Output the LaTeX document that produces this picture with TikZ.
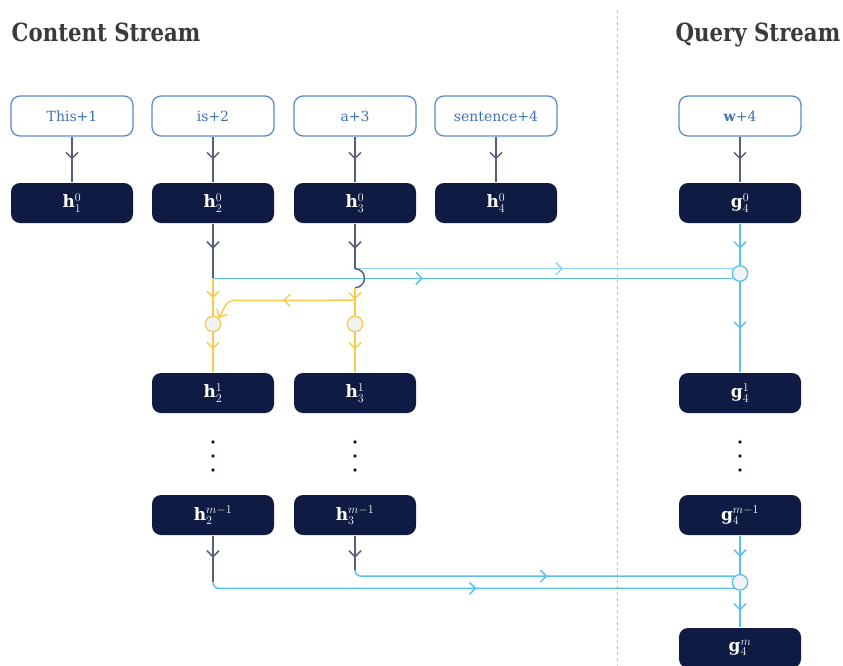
\documentclass[tikz,border=0pt]{standalone}
\usepackage{amsmath}
\usepackage{fontspec}
\setmainfont{DejaVu Serif}
\newfontfamily\titlefont[FakeStretch=0.85]{DejaVu Serif}
\usepackage{xcolor}
\usepackage{tikz}
\usetikzlibrary{arrows.meta}
\usetikzlibrary{decorations.markings}
\usetikzlibrary{calc}
\definecolor{navy}{HTML}{0F1B42}
\definecolor{inblue}{HTML}{5A8CCB}
\definecolor{intext}{HTML}{3F72B5}
\definecolor{slate}{HTML}{56607A}
\definecolor{sky}{HTML}{5BC0EB}
\definecolor{skylight}{HTML}{8FD3F2}
\definecolor{gold}{HTML}{F7CB4D}
\definecolor{mixfill}{HTML}{F2F2F2}
\definecolor{titlegray}{HTML}{3A3A3A}
\tikzset{
	barb/.tip={Straight Barb[length=6pt,width=12pt]},
	inbox/.style={draw=inblue, fill=white, rounded corners=9pt, minimum width=122pt, minimum height=40pt, text=intext, line width=1.3pt, font=\fontsize{14}{16}\selectfont},
	hbox/.style={fill=navy, rounded corners=9pt, minimum width=122pt, minimum height=40pt, text=white, font=\fontsize{17}{19}\selectfont},
	mix/.style={circle, draw=#1, fill=mixfill, line width=1.3pt, minimum size=15.5pt, inner sep=0pt},
	tipat/.style={postaction={decorate}, decoration={markings, mark=at position #1 with {\arrow{barb}}}},
	streamtitle/.style={text=titlegray, font=\titlefont\bfseries\fontsize{25}{28}\selectfont, inner sep=0pt},
}

\begin{document}
\begin{tikzpicture}[x=1pt, y=-1pt, line width=1.5pt]
	\useasboundingbox (0,0) rectangle (843,665);
	\draw[gray!50, dashed, line width=0.9pt] (617,10) -- (617,665);
	\node[streamtitle, anchor=base west] (cs) at (11,41) {Content Stream};
	\node[streamtitle, anchor=base east] (qs) at (841,41) {Query Stream};
	\foreach \n/\x/\t in {1/72/This+1, 2/213/is+2, 3/355/a+3, 4/496/sentence+4}{
		\node[inbox] (in\n) at (\x,116) {\t};
		\node[hbox] (h\n) at (\x,203) {$\mathbf{h}^{0}_{\n}$};
		\draw[slate, tipat=0.5] (in\n) -- (h\n);
	}
	\node[inbox] (w) at (740,116) {\textbf{w}+4};
	\node[hbox] (g0) at (740,203) {$\mathbf{g}^{0}_{4}$};
	\draw[slate, tipat=0.5] (w) -- (g0);
	\foreach \n/\x in {2/213, 3/355}{
		\node[hbox] (hone\n) at (\x,393) {$\mathbf{h}^{1}_{\n}$};
		\node[hbox] (hm\n) at (\x,515) {$\mathbf{h}^{m-1}_{\n}$};
		\node[mix=gold] (yc\n) at (\x,324) {};
		\draw[gold, tipat=17pt] (yc\n) -- (hone\n);
		\foreach \y in {442,456,470}
			\fill[navy] (\x,\y) circle (1.8pt);
	}
	\node[hbox] (gone) at (740,393) {$\mathbf{g}^{1}_{4}$};
	\node[hbox] (gm1) at (740,515) {$\mathbf{g}^{m-1}_{4}$};
	\node[hbox] (gm) at (740,648) {$\mathbf{g}^{m}_{4}$};
	\foreach \y in {442,456,470}
		\fill[navy] (740,\y) circle (1.8pt);
	\node[mix=sky] (qa) at (740,273.5) {};
	\node[mix=sky] (qb) at (740,582.3) {};
	\draw[sky, tipat=25pt] (g0) -- (qa);
	\draw[sky, tipat=47pt] (qa) -- (gone);
	\draw[sky, tipat=21pt] (gm1) -- (qb);
	\draw[sky, tipat=20pt] (qb) -- (gm);
	\coordinate (j2) at (h2 |- qa.215);
	\draw[slate, tipat=25pt] (h2) -- (j2);
	\draw[sky, tipat=210pt] (j2) -- (qa.215);
	\draw[gold, tipat=20pt] (j2) -- (yc2);
	\coordinate (j3) at (h3 |- qa.145);
	\draw[slate, tipat=25pt] (h3) -- (j3);
	\draw[skylight, tipat=208pt] (j3) -- (qa.145);
	\draw[slate] (j3) arc[start angle=-90, end angle=90, radius=9.5] coordinate (k3);
	\draw[gold, tipat=12pt] (k3) -- (yc3);
	\coordinate (b3) at ($(k3)+(0,12.5)$);
	\draw[gold, rounded corners=5pt, tipat=72pt, -barb] (b3) -- (228,300.5) -- (yc2.north east);
	\coordinate (e2) at (hm2 |- qb.227);
	\draw[slate, tipat=22pt] (hm2) -- ($(e2)+(0,-6)$);
	\draw[sky, rounded corners=6pt, tipat=267pt] ($(e2)+(0,-6)$) -- (e2) -- (qb.227);
	\coordinate (e3) at (hm3 |- qb.133);
	\draw[slate, tipat=22pt] (hm3) -- ($(e3)+(0,-6)$);
	\draw[sky, rounded corners=6pt, tipat=196pt] ($(e3)+(0,-6)$) -- (e3) -- (qb.133);
\end{tikzpicture}
\end{document}
